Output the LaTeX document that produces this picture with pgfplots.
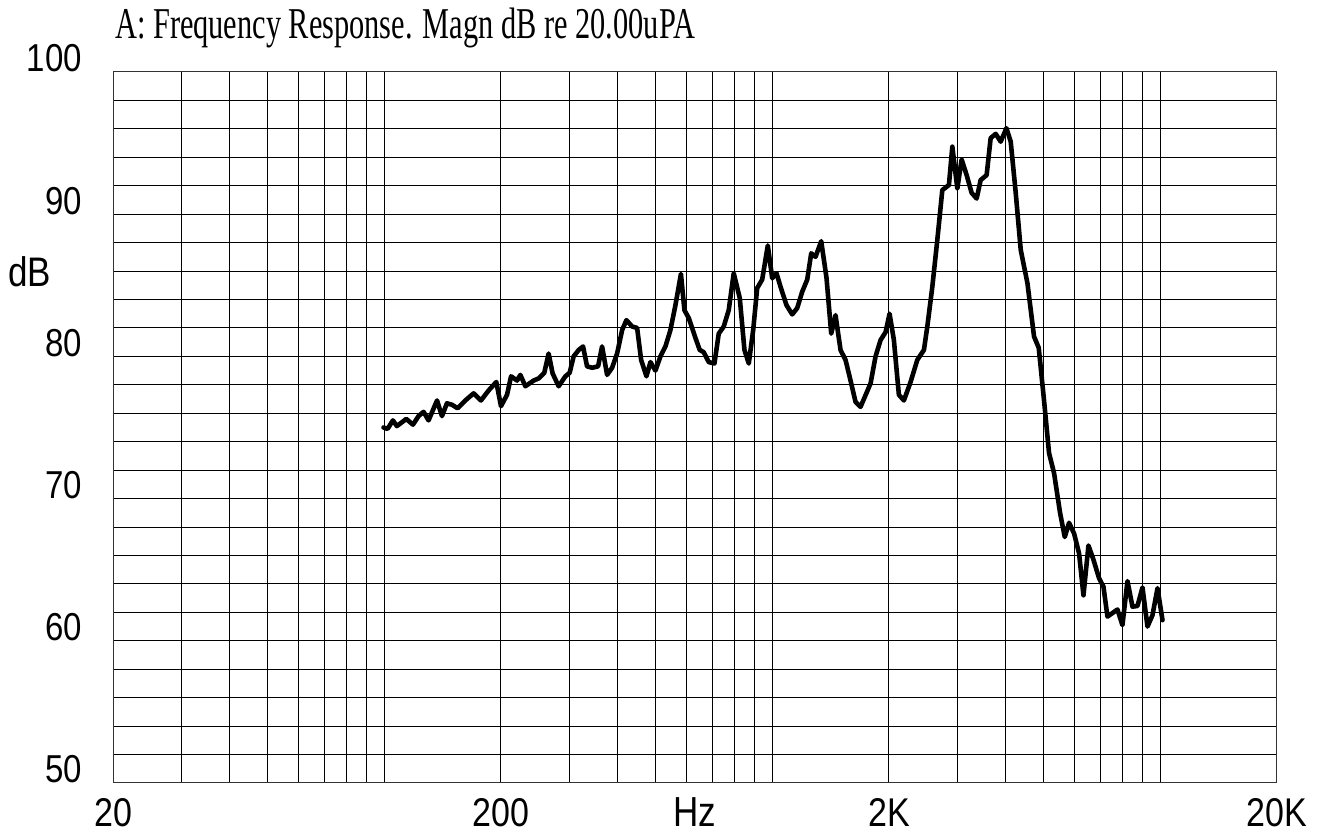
\documentclass[border=0pt]{standalone}
\usepackage{fontspec}
\setmainfont{Liberation Sans}
\newfontfamily\titlefont{Liberation Serif}
\usepackage{pgfplots}
\pgfplotsset{compat=1.18}
\newcommand{\tl}[1]{\scalebox{1}[1.18]{#1}}
\begin{document}
\begin{tikzpicture}
\begin{axis}[
  scale only axis, width=1164pt, height=711pt,
  xmode=log, xmin=20, xmax=20000, ymin=50, ymax=100,
  xtick={20,200,2000,20000},
  xticklabels={\tl{20},\tl{200},\tl{2K},\tl{20K}},
  minor xtick={30,40,50,60,70,80,90,100,300,400,500,600,700,800,900,1000,3000,4000,5000,6000,7000,8000,9000,10000},
  ytick={50,60,70,80,90,100},
  yticklabels={\tl{50},\tl{60},\tl{70},\tl{80},\tl{90},\tl{100}},
  minor ytick={52,54,56,58,62,64,66,68,72,74,76,78,82,84,86,88,92,94,96,98},
  grid=both,
  major grid style={black, line width=1pt},
  minor grid style={black, line width=1pt},
  major tick length=0pt, minor tick length=0pt,
  axis line style={black!80, line width=1pt},
  xticklabel style={font=\fontsize{34}{34}\selectfont, anchor=base, inner sep=0pt, yshift=-43.5pt},
  yticklabel style={font=\fontsize{33}{33}\selectfont, anchor=base east, inner sep=0pt, xshift=-31pt, yshift=0pt},
]
\addplot[black, line width=4.6pt, line join=round, line cap=round] coordinates {
(99.6,75.0) (102.0,74.9) (105.3,75.5) (107.8,75.1) (114.0,75.6) (118.6,75.2)
(122.6,75.8) (126.3,76.1) (130.1,75.5) (136.8,76.9) (140.9,75.8) (145.1,76.7)
(149.5,76.6) (154.6,76.35) (161.8,76.9) (170.0,77.4) (177.6,76.9) (185.8,77.6)
(194.5,78.2) (200,76.5) (207.3,77.3) (212.3,78.6) (220.0,78.3) (224.3,78.7)
(231.1,77.9) (242.7,78.3) (250.0,78.45) (258.6,78.85) (265.3,80.2) (271.7,78.8)
(281.6,77.9) (293.1,78.6) (300.6,78.85) (307.8,80.0) (317.1,80.45) (325.5,80.7)
(333.3,79.3) (343.4,79.2) (355.9,79.3) (364.4,80.7) (375.4,78.7) (386.7,79.2)
(398.4,80.2) (410.4,81.85) (421.0,82.55) (435.5,82.1) (448.6,82.0) (459.4,79.75)
(474.1,78.6) (485.5,79.6) (500.1,79.0) (515.2,80.0) (530.7,80.7) (546.6,81.85)
(563.1,83.6) (581.8,85.8) (594.0,83.25) (609.4,82.7) (634.1,81.3) (650.5,80.45)
(666.1,80.3) (686.2,79.6) (709.8,79.5) (728.2,81.6) (750.1,82.1) (772.7,83.25)
(796.0,85.85) (824.9,84.1) (848.2,80.45) (870.2,79.5) (893.3,81.85) (914.7,84.8)
(942.3,85.4) (974.2,87.8) (1000.0,85.5) (1025.9,85.85) (1050.6,84.9) (1088.7,83.6)
(1126.2,82.95) (1160.1,83.4) (1195.0,84.55) (1231.1,85.4) (1260.6,87.25) (1293.2,87.0)
(1337.7,88.1) (1380.5,85.5) (1419.6,81.6) (1456.3,82.9) (1500.2,80.45) (1545.4,79.75)
(1592.0,78.3) (1640.0,76.8) (1689.4,76.45) (1792.8,78.1) (1846.8,80.0) (1902.5,81.15)
(1959.8,81.7) (2006.9,83.0) (2058.8,81.15) (2120.8,77.3) (2184.7,76.9) (2273.4,78.2)
(2365.7,79.75) (2460.6,80.45) (2510.8,82.1) (2586.5,84.9) (2664.4,88.2) (2744.7,91.7)
(2854.4,92.05) (2912.6,94.75) (3000.4,91.8) (3078.0,93.85) (3170.8,92.75) (3266.3,91.5)
(3364.8,91.1) (3445.7,92.4) (3570.6,92.75) (3656.5,95.35) (3767.6,95.65) (3881.2,95.1)
(4014.8,96.05) (4118.6,95.1) (4242.8,91.5) (4370.6,87.5) (4548.1,85.15) (4729.9,81.4)
(4863.7,80.6) (5019.2,76.9) (5170.5,73.2) (5326.4,71.8) (5519.6,69.0) (5675.9,67.3)
(5822.7,68.3) (5998.1,67.55) (6178.9,66.15) (6342.5,63.2) (6533.6,66.7) (6730.5,65.7)
(6958.1,64.4) (7142.3,63.8) (7313.8,61.7) (7760.1,62.2) (7994.0,61.1) (8235.4,64.2)
(8483.6,62.4) (8739.3,62.45) (9002.2,63.75) (9273.5,61.0) (9552.5,61.8) (9841.6,63.7)
(10138,61.45)
};
\end{axis}
\node[anchor=base, inner sep=0pt, font=\fontsize{35}{35}\selectfont] at (582pt,-43.5pt) {\scalebox{1}[1.2]{Hz}};
\node[anchor=base west, inner sep=0pt, font=\fontsize{35}{35}\selectfont] at (-105pt,496.3pt) {\tl{dB}};
\node[anchor=base west, inner sep=0pt] at (2pt,744.7pt) {\scalebox{0.69}[1]{\titlefont\fontsize{44}{44}\selectfont A: Frequency Response. Magn dB re 20.00uPA}};
\pgfresetboundingbox
\path[use as bounding box] (-113pt,-51pt) rectangle (1216pt,783pt);
\end{tikzpicture}
\end{document}
